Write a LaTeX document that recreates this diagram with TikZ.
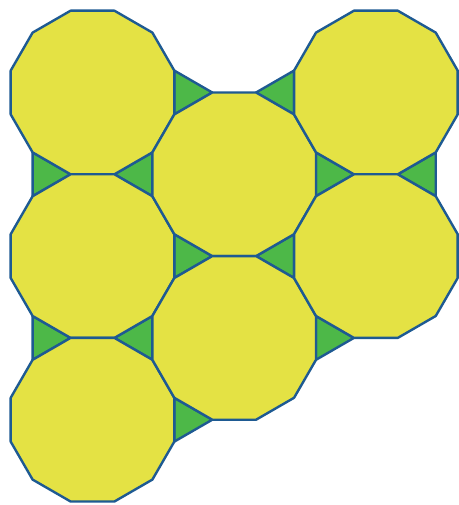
\documentclass[tikz,border=0pt]{standalone}
\definecolor{dyellow}{HTML}{E4E244}
\definecolor{tgreen}{HTML}{4DB848}
\definecolor{edgeblue}{HTML}{1E5A92}
\tikzset{
  dod/.style={fill=dyellow,draw=edgeblue,line width=2.4pt,line join=round},
  tri/.style={fill=tgreen,draw=edgeblue,line width=2.4pt,line join=round}
}
\newcommand\dodecagon[2]{\draw[dod] (#1,#2) +(15:84.69pt) \foreach \a in {45,75,...,345}{ -- +(\a:84.69pt)} -- cycle;}
\newcommand\trigon[3]{\draw[tri] (#1,#2) +(#3:25.31pt) -- +(#3+120:25.31pt) -- +(#3+240:25.31pt) -- cycle;}
\begin{document}
\begin{tikzpicture}[x=1pt,y=-1pt]
\useasboundingbox[fill=white] (0,0) rectangle (458,505);
% triangles (right-pointing)
\trigon{186.95}{92.5}{0}
\trigon{45.27}{174.3}{0}
\trigon{328.6}{174.3}{0}
\trigon{186.95}{256.1}{0}
\trigon{45.27}{337.9}{0}
\trigon{186.95}{419.7}{0}
\trigon{328.6}{337.9}{0}
% triangles (left-pointing)
\trigon{139.73}{174.3}{180}
\trigon{281.4}{92.5}{180}
\trigon{423.1}{174.3}{180}
\trigon{139.73}{337.9}{180}
\trigon{281.4}{256.1}{180}
% dodecagons
\dodecagon{92.5}{92.5}
\dodecagon{92.5}{256.1}
\dodecagon{92.5}{419.7}
\dodecagon{234.18}{174.3}
\dodecagon{234.18}{337.9}
\dodecagon{375.86}{92.5}
\dodecagon{375.86}{256.1}
\end{tikzpicture}
\end{document}
